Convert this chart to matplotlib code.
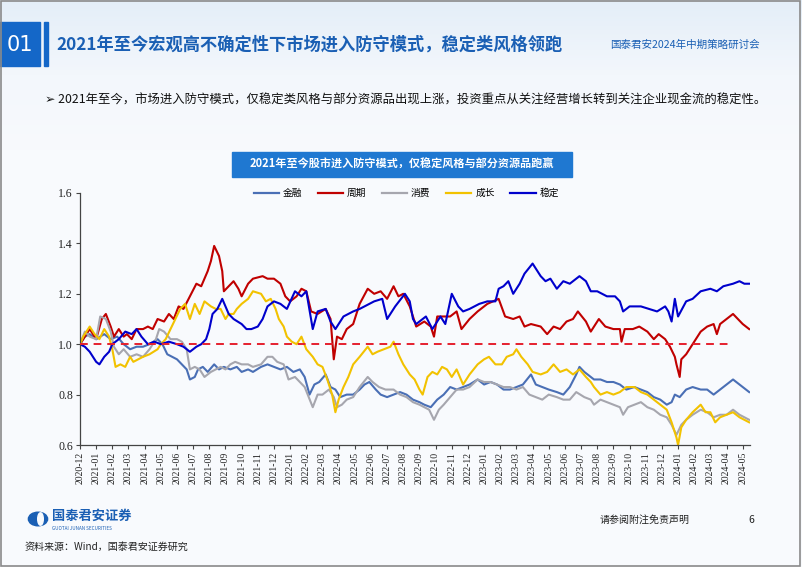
import matplotlib
matplotlib.use("Agg")
import matplotlib.pyplot as plt
from matplotlib.patches import Rectangle, Circle, Ellipse
from matplotlib.colors import LinearSegmentedColormap
import numpy as np

plt.rcParams['font.family'] = ['Noto Sans CJK SC', 'DejaVu Sans']

# ---- data (x = months since 2020-12) ----
month_labels = ['2020-12'] + ['%d-%02d' % (y, m) for y in (2021, 2022, 2023) for m in range(1, 13)] \
    + ['2024-%02d' % m for m in range(1, 6)]

fin_x = [0, 0.3, 0.6, 1.0, 1.5, 1.9, 2.3, 2.7, 3.1, 3.5, 3.9, 4.3, 4.8, 5.1, 5.4, 5.7, 6.0, 6.3, 6.6, 6.8,
         7.1, 7.3, 7.6, 7.9, 8.3, 8.6, 8.9, 9.3, 9.7, 10.0, 10.4, 10.7, 11.2, 11.6, 12.0, 12.4, 12.8, 13.2,
         13.6, 13.9, 14.2, 14.5, 14.8, 15.2, 15.5, 15.8, 16.1, 16.5, 16.9, 17.3, 17.6, 17.9, 18.3, 18.6,
         19.0, 19.4, 19.8, 20.2, 20.6, 21.0, 21.3, 21.7, 22.1, 22.5, 22.9, 23.3, 23.7, 24.1, 24.6, 25.0,
         25.4, 25.8, 26.2, 26.6, 27.0, 27.4, 27.9, 28.2, 28.6, 29.0, 29.5, 29.9, 30.3, 30.7, 30.9, 31.2,
         31.6, 31.8, 32.2, 32.6, 33.0, 33.4, 33.8, 34.3, 34.7, 35.1, 35.5, 35.9, 36.3, 36.6, 36.8, 37.1,
         37.5, 37.9, 38.4, 38.8, 39.2, 39.6, 40.0, 40.4, 40.8, 41.4]
fin_y = [1.00, 1.03, 1.04, 1.02, 1.04, 1.02, 1.03, 1.00, 0.98, 0.99, 0.99, 1.00, 1.02, 1.00, 0.96, 0.95,
         0.94, 0.92, 0.90, 0.86, 0.87, 0.90, 0.91, 0.89, 0.92, 0.90, 0.91, 0.90, 0.91, 0.89, 0.90, 0.89,
         0.91, 0.92, 0.91, 0.90, 0.91, 0.89, 0.90, 0.87, 0.80, 0.84, 0.85, 0.88, 0.83, 0.82, 0.79, 0.80,
         0.80, 0.82, 0.84, 0.85, 0.82, 0.80, 0.79, 0.80, 0.81, 0.80, 0.78, 0.77, 0.76, 0.75, 0.78, 0.80,
         0.83, 0.82, 0.83, 0.84, 0.86, 0.84, 0.85, 0.84, 0.82, 0.82, 0.83, 0.84, 0.88, 0.84, 0.83, 0.82,
         0.81, 0.80, 0.83, 0.88, 0.91, 0.89, 0.87, 0.86, 0.86, 0.85, 0.85, 0.84, 0.82, 0.83, 0.82, 0.81,
         0.79, 0.78, 0.76, 0.77, 0.80, 0.79, 0.82, 0.83, 0.82, 0.82, 0.80, 0.82, 0.84, 0.86, 0.84, 0.81]

cyc_x = [0, 0.3, 0.6, 1.0, 1.35, 1.6, 1.9, 2.1, 2.4, 2.7, 2.9, 3.2, 3.5, 3.9, 4.2, 4.5, 4.8, 5.2, 5.5, 5.8,
         6.1, 6.4, 6.8, 7.2, 7.5, 7.9, 8.1, 8.3, 8.6, 8.8, 8.9, 9.2, 9.5, 9.8, 10.0, 10.4, 10.7, 11.3, 11.6,
         12.0, 12.4, 12.7, 13.0, 13.4, 13.7, 14.0, 14.3, 14.7, 15.2, 15.5, 15.7, 15.9, 16.2, 16.5, 16.9,
         17.3, 17.8, 18.2, 18.6, 19.0, 19.4, 19.7, 20.0, 20.4, 20.8, 21.3, 21.7, 21.9, 22.1, 22.5, 22.9,
         23.3, 23.6, 24.1, 24.6, 25.2, 25.9, 26.3, 26.8, 27.2, 27.5, 27.9, 28.5, 28.9, 29.3, 29.7, 30.1,
         30.5, 30.8, 31.3, 31.6, 32.1, 32.5, 33.0, 33.4, 33.5, 33.7, 34.2, 34.6, 35.1, 35.5, 35.8, 36.2,
         36.5, 36.8, 36.9, 37.1, 37.2, 37.5, 37.9, 38.4, 38.8, 39.2, 39.4, 39.6, 40.0, 40.4, 40.7, 41.0, 41.4]
cyc_y = [1.00, 1.03, 1.06, 1.02, 1.10, 1.12, 1.07, 1.03, 1.06, 1.03, 1.04, 1.02, 1.06, 1.06, 1.07, 1.06,
         1.10, 1.09, 1.12, 1.10, 1.15, 1.14, 1.19, 1.24, 1.23, 1.29, 1.33, 1.39, 1.35, 1.29, 1.21, 1.23,
         1.25, 1.22, 1.19, 1.24, 1.26, 1.27, 1.26, 1.26, 1.24, 1.19, 1.17, 1.19, 1.22, 1.21, 1.13, 1.12,
         1.14, 1.10, 0.94, 1.03, 1.02, 1.06, 1.08, 1.16, 1.22, 1.20, 1.21, 1.18, 1.23, 1.19, 1.20, 1.15,
         1.07, 1.09, 1.07, 1.03, 1.11, 1.11, 1.11, 1.13, 1.06, 1.10, 1.13, 1.16, 1.18, 1.11, 1.10, 1.11,
         1.07, 1.08, 1.07, 1.04, 1.07, 1.06, 1.09, 1.10, 1.13, 1.09, 1.05, 1.10, 1.07, 1.06, 1.06, 1.01,
         1.06, 1.06, 1.07, 1.05, 1.02, 1.04, 1.02, 0.99, 0.95, 0.92, 0.87, 0.94, 0.96, 1.00, 1.05, 1.07,
         1.08, 1.04, 1.08, 1.10, 1.12, 1.10, 1.08, 1.06]

con_x = [0, 0.3, 0.6, 1.0, 1.25, 1.6, 1.9, 2.1, 2.4, 2.7, 3.1, 3.5, 3.9, 4.3, 4.7, 4.9, 5.2, 5.6, 6.0, 6.3,
         6.6, 6.8, 7.1, 7.4, 7.7, 8.1, 8.4, 8.7, 9.0, 9.3, 9.6, 10.0, 10.4, 10.7, 11.2, 11.6, 11.9, 12.2,
         12.6, 12.9, 13.3, 13.6, 13.9, 14.4, 14.7, 15.0, 15.4, 15.7, 15.9, 16.2, 16.5, 16.9, 17.3, 17.8,
         18.1, 18.5, 18.9, 19.4, 19.8, 20.2, 20.6, 21.0, 21.3, 21.6, 21.9, 22.2, 22.5, 22.9, 23.3, 23.7,
         24.1, 24.6, 25.0, 25.4, 25.8, 26.2, 26.6, 27.0, 27.4, 27.8, 28.2, 28.6, 29.0, 29.5, 29.9, 30.3,
         30.7, 31.2, 31.6, 31.8, 32.2, 32.6, 33.0, 33.4, 33.6, 33.9, 34.3, 34.7, 35.1, 35.5, 35.9, 36.3,
         36.6, 36.9, 37.2, 37.5, 37.9, 38.4, 38.8, 39.2, 39.6, 40.0, 40.4, 40.8, 41.4]
con_y = [1.00, 1.05, 1.03, 1.02, 1.11, 1.10, 1.05, 0.99, 0.96, 0.98, 0.95, 0.96, 0.95, 0.98, 1.02, 1.06,
         1.05, 1.02, 1.02, 1.01, 0.98, 0.90, 0.91, 0.90, 0.87, 0.89, 0.90, 0.91, 0.90, 0.92, 0.93, 0.92,
         0.92, 0.91, 0.92, 0.95, 0.95, 0.93, 0.92, 0.86, 0.87, 0.85, 0.83, 0.75, 0.80, 0.80, 0.82, 0.79,
         0.75, 0.76, 0.78, 0.79, 0.83, 0.87, 0.85, 0.83, 0.82, 0.82, 0.80, 0.79, 0.77, 0.76, 0.75, 0.74,
         0.70, 0.74, 0.76, 0.79, 0.82, 0.82, 0.83, 0.86, 0.85, 0.85, 0.84, 0.83, 0.83, 0.82, 0.83, 0.80,
         0.79, 0.78, 0.80, 0.79, 0.78, 0.78, 0.81, 0.79, 0.78, 0.76, 0.78, 0.77, 0.76, 0.75, 0.72, 0.75,
         0.76, 0.77, 0.75, 0.74, 0.72, 0.71, 0.68, 0.64, 0.68, 0.70, 0.72, 0.74, 0.73, 0.71, 0.72, 0.72,
         0.74, 0.72, 0.70]

gro_x = [0, 0.2, 0.6, 0.9, 1.2, 1.5, 1.8, 2.0, 2.2, 2.5, 2.8, 3.1, 3.3, 3.6, 3.9, 4.3, 4.8, 5.0, 5.3, 5.6,
         5.9, 6.2, 6.5, 6.8, 7.1, 7.4, 7.7, 8.1, 8.4, 8.7, 9.0, 9.2, 9.5, 9.7, 10.0, 10.4, 10.7, 11.2, 11.5,
         11.8, 12.1, 12.3, 12.6, 12.8, 13.1, 13.4, 13.7, 14.0, 14.4, 14.7, 15.0, 15.3, 15.6, 15.8, 16.0,
         16.3, 16.6, 16.9, 17.3, 17.8, 18.1, 18.4, 18.8, 19.2, 19.4, 19.7, 20.0, 20.4, 20.7, 21.0, 21.2,
         21.5, 21.8, 22.1, 22.4, 22.7, 23.0, 23.3, 23.7, 24.1, 24.6, 25.0, 25.3, 25.7, 26.1, 26.4, 26.8,
         27.0, 27.3, 27.7, 28.0, 28.5, 28.9, 29.3, 29.7, 30.1, 30.5, 30.9, 31.3, 31.6, 31.8, 32.2, 32.6,
         33.0, 33.4, 33.8, 34.3, 34.7, 35.1, 35.5, 35.9, 36.3, 36.6, 36.9, 37.0, 37.2, 37.5, 37.9, 38.4,
         38.7, 39.0, 39.3, 39.6, 40.0, 40.4, 40.8, 41.4]
gro_y = [1.00, 1.03, 1.07, 1.04, 1.02, 1.06, 1.03, 0.98, 0.91, 0.92, 0.91, 0.95, 0.93, 0.94, 0.95, 0.96,
         0.98, 1.00, 1.02, 1.06, 1.10, 1.14, 1.16, 1.10, 1.16, 1.12, 1.17, 1.15, 1.14, 1.14, 1.10, 1.12,
         1.12, 1.14, 1.16, 1.18, 1.21, 1.20, 1.17, 1.18, 1.14, 1.10, 1.07, 1.03, 1.01, 1.00, 1.03, 0.98,
         0.95, 0.92, 0.91, 0.86, 0.80, 0.73, 0.78, 0.83, 0.87, 0.92, 0.95, 0.99, 0.96, 0.97, 0.98, 0.99,
         1.01, 0.96, 0.92, 0.88, 0.86, 0.82, 0.80, 0.87, 0.89, 0.88, 0.91, 0.90, 0.87, 0.90, 0.84, 0.88,
         0.92, 0.94, 0.95, 0.92, 0.92, 0.95, 0.96, 0.98, 0.95, 0.92, 0.89, 0.88, 0.89, 0.92, 0.89, 0.90,
         0.88, 0.90, 0.87, 0.85, 0.83, 0.80, 0.81, 0.80, 0.81, 0.83, 0.83, 0.81, 0.80, 0.78, 0.76, 0.74,
         0.69, 0.63, 0.60, 0.67, 0.70, 0.73, 0.76, 0.73, 0.73, 0.69, 0.71, 0.72, 0.73, 0.71, 0.69]

sta_x = [0, 0.3, 0.6, 1.0, 1.2, 1.5, 1.8, 2.0, 2.4, 2.8, 3.2, 3.5, 3.8, 4.2, 4.6, 5.0, 5.5, 6.0, 6.4, 6.8,
         7.2, 7.5, 7.8, 8.0, 8.2, 8.5, 8.8, 9.2, 9.5, 10.0, 10.3, 10.6, 11.0, 11.3, 11.6, 12.0, 12.4, 12.8,
         13.3, 13.7, 14.0, 14.4, 14.7, 15.2, 15.5, 15.8, 16.0, 16.3, 16.9, 17.3, 17.6, 18.2, 18.7, 19.0,
         19.5, 20.1, 20.4, 20.6, 20.8, 21.0, 21.4, 21.8, 22.3, 22.6, 23.0, 23.4, 23.7, 24.1, 24.7, 25.2,
         25.7, 25.9, 26.2, 26.5, 26.8, 27.2, 27.5, 28.0, 28.5, 28.8, 29.1, 29.5, 29.9, 30.3, 30.9, 31.3,
         31.6, 32.0, 32.6, 33.1, 33.4, 33.6, 34.0, 34.7, 35.2, 35.7, 36.2, 36.4, 36.6, 36.8, 37.0, 37.5,
         37.9, 38.4, 39.0, 39.4, 39.8, 40.4, 40.8, 41.1, 41.4]
sta_y = [1.00, 0.99, 0.97, 0.93, 0.92, 0.95, 0.97, 1.00, 1.02, 1.05, 1.04, 1.06, 1.03, 1.00, 1.01, 1.00,
         1.01, 1.00, 0.99, 0.97, 0.99, 1.00, 1.02, 1.06, 1.12, 1.14, 1.18, 1.12, 1.10, 1.08, 1.06, 1.06,
         1.07, 1.10, 1.15, 1.17, 1.16, 1.14, 1.21, 1.19, 1.21, 1.06, 1.13, 1.14, 1.09, 1.06, 1.08, 1.11,
         1.13, 1.14, 1.15, 1.17, 1.18, 1.10, 1.15, 1.20, 1.17, 1.10, 1.08, 1.09, 1.11, 1.06, 1.11, 1.08,
         1.20, 1.15, 1.13, 1.14, 1.16, 1.17, 1.17, 1.22, 1.23, 1.25, 1.20, 1.24, 1.28, 1.32, 1.27, 1.25,
         1.26, 1.22, 1.25, 1.24, 1.27, 1.25, 1.21, 1.21, 1.19, 1.19, 1.17, 1.13, 1.15, 1.15, 1.14, 1.13,
         1.15, 1.13, 1.09, 1.18, 1.11, 1.17, 1.18, 1.21, 1.22, 1.21, 1.23, 1.24, 1.25, 1.24, 1.24]

baseline = 1.0
baseline_end = 40.2

series = [
    ('金融', fin_x, fin_y, '#4A6FB5'),
    ('周期', cyc_x, cyc_y, '#C00000'),
    ('消费', con_x, con_y, '#A6A6AE'),
    ('成长', gro_x, gro_y, '#F2C200'),
    ('稳定', sta_x, sta_y, '#0000CC'),
]

W, H = 802, 567
fig = plt.figure(figsize=(W / 100, H / 100), dpi=100)
fig.patch.set_facecolor('#F8FAFD')


def fx(x):
    return x / W


def fy(y):
    return 1 - y / H


# light blue wash at the top of the slide, fading to white
bg = fig.add_axes([0, 0, 1, 1], zorder=-10)
wash = LinearSegmentedColormap.from_list('wash', ['#F8FAFD', '#F3F7FC', '#E4EEF8'])
grad = np.linspace(0, 1, 200).reshape(-1, 1)
bg.imshow(grad, extent=[0, 1, fy(150), 1], aspect='auto', cmap=wash, origin='lower')
bg.set_xlim(0, 1)
bg.set_ylim(0, 1)
bg.axis('off')

# header
fig.add_artist(Rectangle((fx(0), fy(66)), fx(40), fy(22) - fy(66), transform=fig.transFigure,
                         color='#1467C8'))
fig.text(fx(20), fy(45), '01', color='white', fontsize=15, ha='center', va='center',
         family=['Liberation Sans Narrow', 'DejaVu Sans'])
fig.add_artist(Rectangle((fx(44), fy(66)), fx(3.5), fy(22) - fy(66), transform=fig.transFigure,
                         color='#1467C8'))
fig.text(fx(56), fy(45), '2021年至今宏观高不确定性下市场进入防守模式，稳定类风格领跑',
         color='#1A5FB4', fontsize=12.4, fontweight='bold', ha='left', va='center')
fig.text(fx(760), fy(45), '国泰君安2024年中期策略研讨会', color='#1A5FB4', fontsize=7.6,
         ha='right', va='center')
fig.text(fx(45), fy(100),
         '➢ 2021年至今，市场进入防守模式，仅稳定类风格与部分资源品出现上涨，投资重点从关注经营增长转到关注企业现金流的稳定性。',
         color='#111111', fontsize=8.9, ha='left', va='center',
         family=['Noto Sans CJK SC', 'DejaVu Sans'])

# chart title box
fig.add_artist(Rectangle((fx(232), fy(177)), fx(340), fy(152) - fy(177), transform=fig.transFigure,
                         color='#1F78D1'))
fig.text(fx(402), fy(164.5), '2021年至今股市进入防守模式，仅稳定风格与部分资源品跑赢',
         color='white', fontsize=8, fontweight='bold', ha='center', va='center')

# chart
ax = fig.add_axes([fx(80), fy(445), fx(670), fy(193) - fy(445)])
ax.set_facecolor('none')
for name, xs, ys, col in series:
    ax.plot(xs, ys, color=col, lw=1.5, label=name)
ax.hlines(baseline, 0, baseline_end, colors='#E5202E', linestyles=(0, (4, 3)), lw=1.4, zorder=5)

ax.set_xlim(0, 41.45)
ax.set_ylim(0.6, 1.6)
ax.set_yticks(np.arange(0.6, 1.61, 0.2))
ax.set_yticklabels(['%.1f' % v for v in np.arange(0.6, 1.61, 0.2)],
                   family='Liberation Serif', fontsize=8.5, color='#222222')
ax.set_xticks(range(len(month_labels)))
ax.set_xticklabels(month_labels, rotation=90, family='Liberation Serif', fontsize=7,
                   color='#222222')
ax.tick_params(axis='both', direction='out', length=3, width=0.8, color='#444444', pad=2)
for s in ('top', 'right'):
    ax.spines[s].set_visible(False)
for s in ('left', 'bottom'):
    ax.spines[s].set_color('#444444')
    ax.spines[s].set_linewidth(0.9)

leg = ax.legend(loc='center', bbox_to_anchor=(0.487, 1.0), ncol=5, frameon=False,
                handlelength=2.6, columnspacing=1.6, handletextpad=0.4,
                prop={'family': ['Noto Sans CJK SC', 'DejaVu Sans'], 'size': 7})
for ln in leg.get_lines():
    ln.set_linewidth(1.6)

# footer
fig.add_artist(Circle((fx(38), fy(519)), 0.012, transform=fig.transFigure, color='#1A5FB4'))
fig.add_artist(Ellipse((fx(40.5), fy(519)), 0.007, 0.022, transform=fig.transFigure,
                       color='#F8FAFD'))
fig.text(fx(52), fy(516), '国泰君安证券', color='#1A5FB4', fontsize=9.5, fontweight='bold',
         ha='left', va='center')
fig.text(fx(52), fy(528), 'GUOTAI JUNAN SECURITIES', color='#1A5FB4', fontsize=3.3,
         ha='left', va='center')
fig.text(fx(645), fy(520), '请参阅附注免责声明', color='#222222', fontsize=7.2, ha='center',
         va='center')
fig.text(fx(751), fy(520), '6', color='#222222', fontsize=7.5, ha='center', va='center')
fig.text(fx(25), fy(547), '资料来源：Wind，国泰君安证券研究', color='#222222', fontsize=7.2,
         ha='left', va='center')

# slide frame
fig.add_artist(Rectangle((0.001, 0.002), 0.997, 0.996, transform=fig.transFigure, fill=False,
                         edgecolor='#8A8A8A', lw=1.2))

fig.savefig('out.png', dpi=100)
